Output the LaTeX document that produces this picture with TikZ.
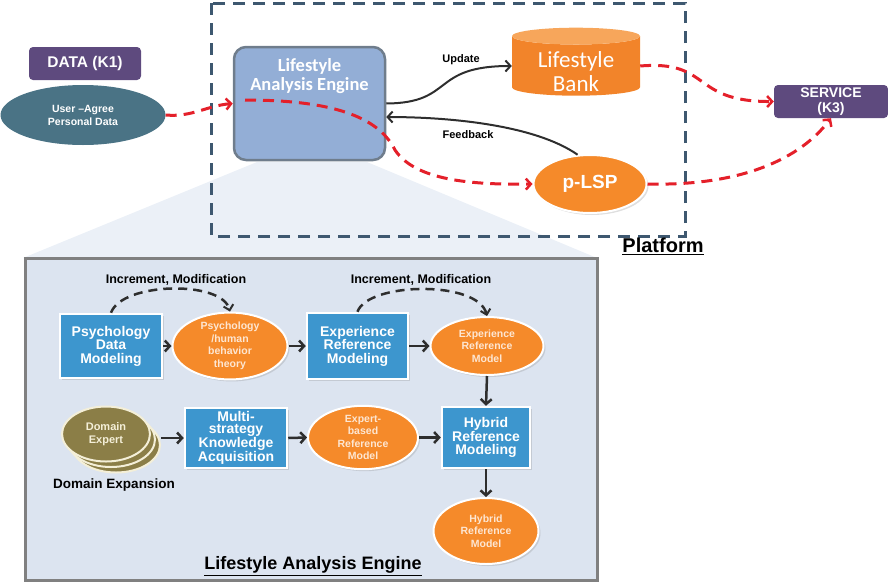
\documentclass[tikz,border=0pt]{standalone}
\usepackage{fontspec}
\setmainfont{Liberation Sans}
\newfontfamily\calfont{Carlito}
\usetikzlibrary{arrows.meta,shapes.geometric,shadows}
\definecolor{kpurple}{HTML}{5E4A7E}
\definecolor{kteal}{HTML}{4A7385}
\definecolor{engfill}{HTML}{93AED6}
\definecolor{engdraw}{HTML}{6F7D8C}
\definecolor{bankbody}{HTML}{F2842A}
\definecolor{banktop}{HTML}{F7A65B}
\definecolor{korange}{HTML}{F58A2A}
\definecolor{kblue}{HTML}{3D96CE}
\definecolor{kolive}{HTML}{8B7E47}
\definecolor{olivedraw}{HTML}{F4EFD8}
\definecolor{lowfill}{HTML}{DCE4F0}
\definecolor{lowdraw}{HTML}{808080}
\definecolor{fanfill}{HTML}{EBF0F7}
\definecolor{platdash}{HTML}{3E5870}
\definecolor{kred}{HTML}{E4202A}
\definecolor{kdark}{HTML}{2E2E2E}
\definecolor{ovtext}{HTML}{FDE6D2}
\begin{document}
\begin{tikzpicture}[x=1pt,y=-1pt,
  fs/.style={font=\bfseries\fontsize{#1}{#1}\selectfont},
  purplebox/.style={rectangle, rounded corners=4, fill=kpurple, text=white, align=center, inner sep=0pt},
  bluebox/.style={rectangle, fill=kblue, draw=white, line width=2.5pt, text=white, align=center, inner sep=0pt,
     drop shadow={opacity=0.25, shadow xshift=2pt, shadow yshift=-2pt},
     font=\bfseries\fontsize{14}{13.5}\selectfont},
  orangeell/.style={ellipse, fill=korange, draw=white, line width=2pt, text=ovtext, align=center, inner sep=0pt,
     drop shadow={opacity=0.25, shadow xshift=2pt, shadow yshift=-2pt},
     font=\bfseries\fontsize{10.5}{12.5}\selectfont},
  oliveell/.style={ellipse, fill=kolive, draw=olivedraw, line width=2pt, text=olivedraw, align=center, inner sep=0pt,
     minimum width=88, minimum height=55, font=\bfseries\fontsize{11}{13}\selectfont},
  reddash/.style={draw=kred, line width=3pt, dash pattern=on 11pt off 7pt, -{Straight Barb[length=5pt,width=11pt,line width=2.5pt]}},
  darkarrow/.style={draw=kdark, line width=2.5pt, -{Straight Barb[length=5pt,width=11pt,line width=2.5pt]}},
  darkline/.style={draw=kdark, line width=2pt, -{Straight Barb[length=5pt,width=11pt,line width=2pt]}},
  darkdash/.style={draw=kdark, line width=2.5pt, dash pattern=on 9pt off 6pt, -{Straight Barb[length=5pt,width=10pt,line width=2pt]}},
  lbl/.style={text=black, inner sep=0pt},
  bankfont/.style={font=\calfont\fontsize{23}{24}\selectfont}
]
\useasboundingbox (0,0) rectangle (888,584);

% zoom fan
\fill[fanfill] (257,162) -- (367,162) -- (597,258) -- (23,258) -- cycle;

% platform
\draw[platdash, line width=3pt, dash pattern=on 12pt off 8pt] (211,3) rectangle (685,236);
\node[lbl, fs=20] (platlbl) at (663,246) {\underline{Platform}};

% top nodes
\node[purplebox, minimum width=112, minimum height=33, fs=15.5] (data) at (85,63.5) {DATA (K1)};
\node[ellipse, fill=kteal, text=white, minimum width=165, minimum height=60, inner sep=0pt, align=center,
      font=\bfseries\fontsize{10.5}{13}\selectfont] (user) at (83,115) {User –Agree\\Personal Data};
\node[rectangle, rounded corners=12, fill=engfill, draw=engdraw, line width=2.5pt,
      minimum width=151, minimum height=113] (engine) at (309.5,103.5) {};
\node[text=white, align=center, inner sep=0pt, font=\calfont\bfseries\fontsize{18.5}{19}\selectfont] (engtext) at (309.5,76) {Lifestyle\\Analysis Engine};
\node[cylinder, shape border rotate=90, aspect=0.22, minimum width=128, minimum height=68,
      cylinder uses custom fill, cylinder body fill=bankbody, cylinder end fill=banktop,
      align=center, inner sep=0pt, bankfont] (bank) at (576,66) {\phantom{Lifestyle}\\\phantom{Bank}};
\node[text=white, align=center, inner sep=0pt, bankfont] (banktext) at (576,72) {Lifestyle\\Bank};
\node[purplebox, minimum width=114, minimum height=33, font=\bfseries\fontsize{14}{14.5}\selectfont] (service) at (831,101.5) {SERVICE\\(K3)};
\node[ellipse, fill=korange, draw=white, line width=2pt, minimum width=113, minimum height=58, inner sep=0pt,
      text=white, drop shadow={opacity=0.25, shadow xshift=2pt, shadow yshift=-2pt}, fs=19] (plsp) at (590,184) {p-LSP};

% top connectors
\coordinate (engin) at (245,100);
\draw[reddash] (user.east) to[out=-5,in=185] (engine.west);
\draw[reddash] (engin) .. controls (340,100) and (380,120) .. (395,150) .. controls (415,180) and (470,185) .. (plsp.west);
\draw[reddash] (bank.east) .. controls (712,60) and (690,102) .. (service.west);
\draw[reddash] (plsp.east) .. controls (730,186) and (795,165) .. (service.south);
\draw[darkline] (engine.east) .. controls (455,103) and (430,66) .. (bank.west);
\draw[darkline] (plsp.113) .. controls (535,125) and (450,117) .. (engine.-10);
\node[lbl, fs=11] (updlbl) at (461,60) {Update};
\node[lbl, fs=11] (fbklbl) at (468,135) {Feedback};

% lower panel
\draw[fill=lowfill, draw=lowdraw, line width=3pt] (25,258) rectangle (597,580);
\node[lbl, fs=18] (lowtitle) at (313,566) {\underline{Lifestyle Analysis Engine}};

\node[lbl, fs=12.5] (inc1) at (176,280) {Increment, Modification};
\node[lbl, fs=12.5] (inc2) at (421,280) {Increment, Modification};

\node[bluebox, minimum width=102, minimum height=64] (pdm) at (111,346) {Psychology\\Data\\Modeling};
\node[orangeell, minimum width=115, minimum height=58] (pht) at (230,346) {Psychology\\/human\\behavior\\theory};
\node[bluebox, minimum width=101, minimum height=66] (erm) at (357.5,346) {Experience\\Reference\\Modeling};
\node[orangeell, minimum width=113, minimum height=58] (erml) at (487,346) {Experience\\Reference\\Model};
\node[bluebox, minimum width=88, minimum height=61] (hrm) at (486,437.5) {Hybrid\\Reference\\Modeling};
\node[orangeell, minimum width=105, minimum height=66] (hrml) at (486,531) {Hybrid\\Reference\\Model};
\node[orangeell, minimum width=110, minimum height=61] (ebm) at (363,437.5) {Expert-\\based\\Reference\\Model};
\node[bluebox, minimum width=102, minimum height=60, font=\bfseries\fontsize{14}{12.5}\selectfont] (mska) at (236,438) {Multi-\\strategy\\Knowledge\\Acquisition};
\node[oliveell] (de3) at (116,445) {};
\node[oliveell] (de2) at (111,439.5) {};
\node[oliveell] (de1) at (106,434) {Domain\\Expert};
\node[lbl, fs=13.5] (dexp) at (114,485) {Domain Expansion};

\draw[darkdash] (pdm.north) .. controls (122,282) and (222,280) .. (pht.north);
\draw[darkdash] (erm.north) .. controls (368,282) and (478,280) .. (erml.north);
\draw[darkarrow] (pdm.east) -- (pht.west);
\draw[darkarrow] (pht.east) -- (erm.west);
\draw[darkarrow] (erm.east) -- (erml.west);
\draw[darkarrow] (erml.south) -- (hrm.north);
\draw[darkarrow] (hrm.south) -- (hrml.north);
\draw[darkarrow] (ebm.east) -- (hrm.west);
\draw[darkarrow] (mska.east) -- (ebm.west);
\draw[darkarrow] (de3.east |- mska.west) -- (mska.west);
\end{tikzpicture}
\end{document}
